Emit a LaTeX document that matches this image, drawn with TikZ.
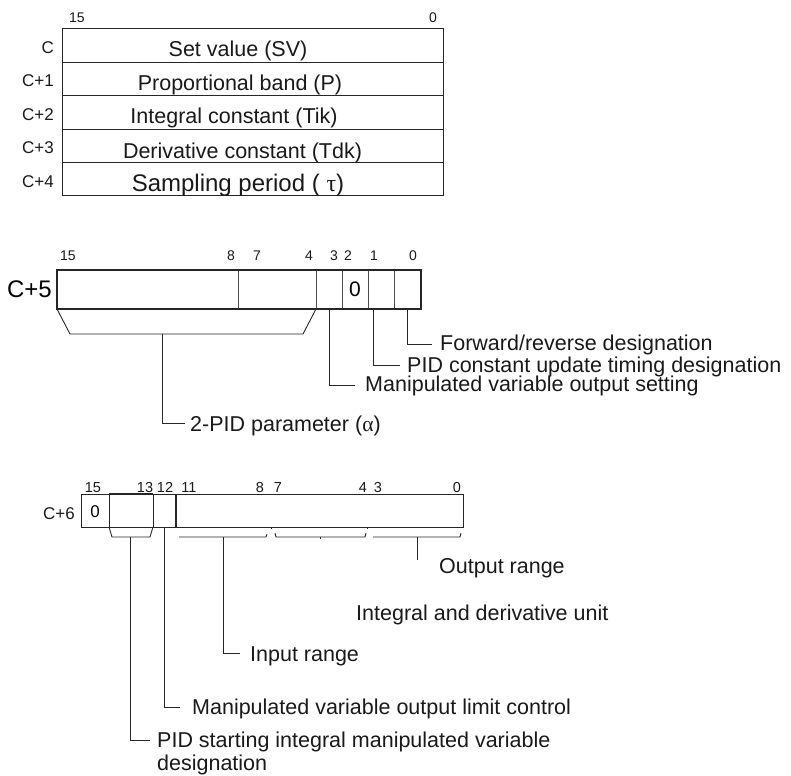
\documentclass[tikz,border=0pt]{standalone}
\usepackage{fontspec}
\setmainfont{Liberation Sans}
\newfontfamily\grk{Liberation Serif}
\begin{document}
\begin{tikzpicture}[x=1pt,y=-1pt,
  ln/.style={draw=black!85, line width=0.9pt},
  thin/.style={draw=black!70, line width=0.8pt},
  thick/.style={draw=black!85, line width=2.6pt},
  big/.style={font=\fontsize{21.5}{24}\selectfont, inner sep=0pt, text=black!90},
  lbl/.style={font=\fontsize{17}{19}\selectfont, inner sep=0pt, anchor=base east, text=black!90},
  bitn/.style={font=\fontsize{14}{16}\selectfont, inner sep=0pt, anchor=base, text=black!90},
  bits/.style={font=\fontsize{14.5}{16}\selectfont, inner sep=0pt, anchor=base, text=black!90},
  desc/.style={big, anchor=base west}]
\useasboundingbox (0,0) rectangle (791,775);

% ---------------- Top table ----------------
\node[bitn] (t15) at (77,23) {15};
\node[bitn] (t0) at (433,23) {0};
\draw[ln] (62,28) rectangle (443,195);
\foreach \yy in {62,95.5,129,162.5} \draw[ln] (62,\yy) -- (443,\yy);
\node[lbl] (lc0) at (54,54) {C};
\node[lbl] (lc1) at (54,87) {C+1};
\node[lbl] (lc2) at (54,121) {C+2};
\node[lbl] (lc3) at (54,154) {C+3};
\node[lbl] (lc4) at (54,188) {C+4};
\node[big, anchor=base] (sv) at (238,57) {Set value (SV)};
\node[big, anchor=base] (pb) at (240,91) {Proportional band (P)};
\node[big, anchor=base] (tik) at (234,124) {Integral constant (Tik)};
\node[big, anchor=base] (tdk) at (242.5,159) {Derivative constant (Tdk)};
\node[big, anchor=base, font=\fontsize{24}{26}\selectfont] (tau) at (238,192) {Sampling period ( {\grk τ})};

% ---------------- C+5 ----------------
\node[bitn] (n15) at (68,261) {15};
\node[bitn] (n8) at (231,261) {8};
\node[bitn] (n7) at (257,261) {7};
\node[bitn] (n4) at (309,261) {4};
\node[bitn] (n3) at (334,261) {3};
\node[bitn] (n2) at (348,261) {2};
\node[bitn] (n1) at (374,261) {1};
\node[bitn] (n0) at (413,261) {0};
\node[font=\fontsize{24}{26}\selectfont, inner sep=0pt, anchor=base east] (c5) at (52,297) {C+5};
\foreach \xx in {238,316,342,368,394} \draw[thin] (\xx,270) -- (\xx,309);
\draw[thick] (57,270) rectangle (421,309);
\node[font=\fontsize{21}{23}\selectfont, inner sep=0pt, anchor=base] (z5) at (355,296) {0};
% bracket bits 15-4
\draw[ln] (57,309) -- (70,334) -- (303,334) -- (316,309);
\coordinate (alphaTop) at (162,334);
\coordinate (alphaEnd) at (185,423);
\draw[ln] (alphaTop) |- (alphaEnd);
\node[desc] (alpha) at (190,431) {2-PID parameter ({\grk α})};
% bit 3
\coordinate (b3) at (329,309); \coordinate (b3e) at (355,385);
\draw[ln] (b3) |- (b3e);
\node[desc] (mvo) at (365,391.5) {Manipulated variable output setting};
% bit 1
\coordinate (b1) at (373,309); \coordinate (b1e) at (400,365);
\draw[ln] (b1) |- (b1e);
\node[desc] (pidc) at (407,372) {PID constant update timing designation};
% bit 0
\coordinate (b0) at (407,309); \coordinate (b0e) at (432,344);
\draw[ln] (b0) |- (b0e);
\node[desc] (fwd) at (440,350.5) {Forward/reverse designation};

% ---------------- C+6 ----------------
\node[bits] (m15) at (93,492) {15};
\node[bits] (m13) at (145,492) {13};
\node[bits] (m12) at (165,492) {12};
\node[bits] (m11) at (189,492) {11};
\node[bits] (m8) at (260,492) {8};
\node[bits] (m7) at (278,492) {7};
\node[bits] (m4) at (363,492) {4};
\node[bits] (m3) at (378,492) {3};
\node[bits] (m0) at (457,492) {0};
\node[lbl] (c6) at (75,519) {C+6};
\draw[ln] (81,494) rectangle (463,527);
\draw[ln] (109,494) -- (109,527);
\draw[ln, line width=1.1pt] (109,494) -- (153,494);
\draw[ln] (153,494) -- (153,527);
\draw[ln, line width=1.1pt] (176,494) -- (176,527);
\node[font=\fontsize{17}{19}\selectfont, inner sep=0pt, anchor=base] (z6) at (95,517) {0};
% tiny ticks on bottom edge
\draw[ln, line width=0.7pt] (271,527) -- (271,529);
\draw[ln, line width=0.7pt] (367,527) -- (367,529);
% bracket bits 14-13
\draw[ln] (109,527) -- (112,537) -- (150,537) -- (153,527);
\coordinate (s13) at (130,537); \coordinate (s13e) at (150,740);
\draw[ln] (s13) |- (s13e);
\node[desc] (pids) at (157,747) {PID starting integral manipulated variable};
\node[desc] (pids2) at (157,770) {designation};
% bit 12
\coordinate (s12) at (164,527); \coordinate (s12e) at (180,707);
\draw[ln] (s12) |- (s12e);
\node[desc] (mvl) at (192,714) {Manipulated variable output limit control};
% bits 11-8
\draw[ln] (179,537) -- (266,537) -- (267,534);
\coordinate (s11) at (223,537); \coordinate (s11e) at (240,653);
\draw[ln] (s11) |- (s11e);
\node[desc] (inr) at (250,661) {Input range};
% bits 7-4
\draw[ln] (275,533) -- (276,537) -- (365,537) -- (366,533);
\draw[ln, line width=0.7pt] (320,537) -- (320,539);
\node[desc] (idu) at (356,620) {Integral and derivative unit};
% bits 3-0
\draw[ln] (373,537) -- (460,537) -- (461,533);
\coordinate (s3) at (417,537); \coordinate (s3e) at (417,560);
\draw[ln] (s3) -- (s3e);
\node[desc] (outr) at (439,573) {Output range};
\end{tikzpicture}
\end{document}
